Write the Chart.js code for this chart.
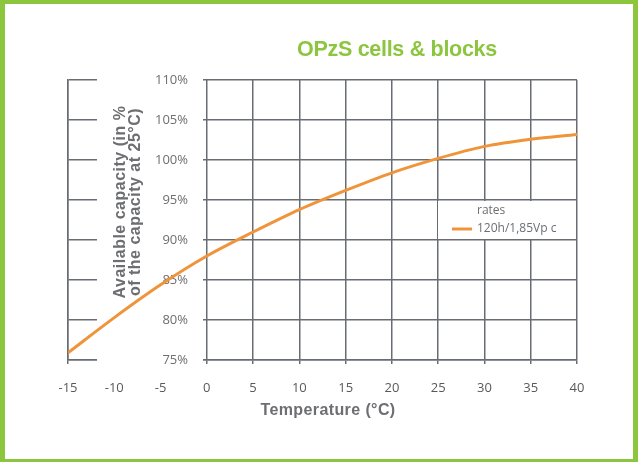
<!DOCTYPE html>
<html>
<head>
<meta charset="utf-8">
<script src="https://cdn.jsdelivr.net/npm/chart.js@4"></script>
<style>
  html, body { margin: 0; padding: 0; background: #fff; }
  #wrap { width: 638px; height: 462px; position: relative; }
</style>
</head>
<body>
<div id="wrap"><canvas id="chart" width="638" height="462"></canvas></div>
<script>
// temperature (°C) and available capacity (% of capacity at 25°C)
const temperatures = [-15, -10, -5, 0, 5, 10, 15, 20, 25, 30, 35, 40];
const capacity = [75.9, 80.3, 84.4, 88.0, 91.0, 93.8, 96.2, 98.4, 100.2, 101.7, 102.6, 103.2];
const yTicks = [75, 80, 85, 90, 95, 100, 105, 110];
const seriesLabel = '120h/1,85Vp c';
const legendTitle = 'rates';

const GREEN = '#8cc63f';
const ORANGE = '#f0943a';
const GRID = '#686d73';
const TEXT = '#6d6e71';

// frame, white label strip, axis texts, title and legend
const decor = {
    id: 'decor',
    beforeDraw(chart) {
        const ctx = chart.ctx;
        ctx.save();
        ctx.fillStyle = GREEN;
        ctx.fillRect(0, 0, chart.width, chart.height);
        ctx.fillStyle = '#fff';
        ctx.fillRect(5, 4, chart.width - 10, chart.height - 7);
        ctx.restore();
    },
    beforeDatasetsDraw(chart) {
        const ctx = chart.ctx;
        const area = chart.chartArea;
        const y = chart.scales.y;
        ctx.save();
        // white strip behind the y labels
        ctx.fillStyle = '#fff';
        ctx.fillRect(area.left + 29, area.top - 8, 106, area.bottom - area.top + 16);

        // y tick labels
        ctx.fillStyle = TEXT;
        ctx.font = '13px "Open Sans"';
        ctx.textAlign = 'right';
        ctx.textBaseline = 'middle';
        yTicks.forEach(v => ctx.fillText(v + '%', 188, y.getPixelForValue(v)));

        // y axis title
        ctx.translate(0, 202);
        ctx.rotate(-Math.PI / 2);
        ctx.font = 'bold 16px "Liberation Sans"';
        ctx.letterSpacing = '0.5px';
        ctx.textAlign = 'center';
        ctx.fillText('Available capacity (in %', 0, 121);
        ctx.fillText('of the capacity at 25°C)', 0, 136);
        ctx.restore();

        // legend box
        ctx.save();
        ctx.fillStyle = '#fff';
        ctx.fillRect(438, 201, 136, 38);
        ctx.fillStyle = TEXT;
        ctx.font = '12px "Open Sans"';
        ctx.textBaseline = 'middle';
        ctx.textAlign = 'left';
        ctx.fillText(legendTitle, 477, 211);
        ctx.fillText(seriesLabel, 477, 229);
        ctx.strokeStyle = ORANGE;
        ctx.lineWidth = 3;
        ctx.beginPath();
        ctx.moveTo(452, 229);
        ctx.lineTo(472, 229);
        ctx.stroke();
        ctx.restore();
    },
    afterDraw(chart) {
        const ctx = chart.ctx;
        ctx.save();
        ctx.textAlign = 'center';
        ctx.textBaseline = 'middle';
        ctx.fillStyle = GREEN;
        ctx.font = 'bold 21.5px "Liberation Sans"';
        ctx.letterSpacing = '-0.3px';
        ctx.fillText('OPzS cells & blocks', 397, 50);
        ctx.fillStyle = TEXT;
        ctx.font = 'bold 16px "Liberation Sans"';
        ctx.letterSpacing = '0.4px';
        ctx.fillText('Temperature (°C)', 328, 411);
        ctx.restore();
    }
};

new Chart(document.getElementById('chart'), {
    type: 'line',
    data: {
        labels: temperatures,
        datasets: [{
            label: seriesLabel,
            data: temperatures.map((t, i) => ({ x: t, y: capacity[i] })),
            borderColor: ORANGE,
            borderWidth: 3,
            pointRadius: 0,
            cubicInterpolationMode: 'monotone',
            fill: false
        }]
    },
    options: {
        responsive: false,
        animation: false,
        layout: { padding: { left: 68, right: 61, top: 80, bottom: 2 } },
        plugins: {
            legend: { display: false },
            title: { display: false },
            tooltip: { enabled: false }
        },
        scales: {
            x: {
                type: 'linear',
                min: -15,
                max: 40,
                afterFit: s => { s.height = 100; },
                ticks: {
                    stepSize: 5,
                    padding: 16,
                    color: '#58595b',
                    font: { family: 'Open Sans', size: 13 }
                },
                grid: { color: GRID, lineWidth: 1.5, tickLength: 4, tickColor: GRID },
                border: { color: GRID, width: 1.5 }
            },
            y: {
                min: 75,
                max: 110,
                afterFit: s => { s.width = 0; },
                ticks: { stepSize: 5, display: false },
                grid: { color: GRID, lineWidth: 1.5, drawTicks: false },
                border: { color: GRID, width: 1.5 }
            }
        }
    },
    plugins: [decor]
});
</script>
</body>
</html>
